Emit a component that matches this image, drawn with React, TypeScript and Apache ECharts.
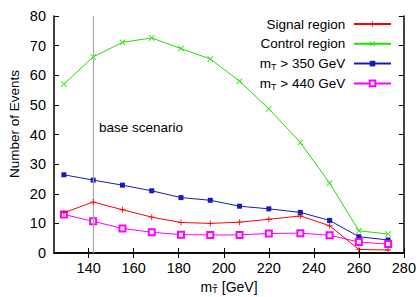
import React, { useEffect, useRef } from "react";
import * as echarts from "echarts";

const MT = [129, 142, 155, 168, 181, 194, 207, 220, 234, 247, 260, 273];
const SIGNAL = [13.6, 17.2, 14.6, 12.1, 10.3, 10.0, 10.4, 11.4, 12.5, 9.2, 1.2, 1.0];
const CONTROL = [57.0, 66.2, 71.1, 72.6, 69.0, 65.5, 58.0, 48.7, 37.3, 23.6, 7.5, 6.4];
const MT350 = [26.4, 24.6, 22.9, 21.0, 18.7, 17.8, 15.8, 14.9, 13.7, 11.0, 5.5, 4.4];
const MT440 = [13.0, 10.7, 8.3, 7.0, 6.2, 6.1, 6.1, 6.6, 6.7, 6.0, 3.7, 3.0];
const X_TICKS = [140, 160, 180, 200, 220, 240, 260, 280];
const BASE_SCENARIO = 142;
const NAMES = ["Signal region", "Control region", "mT > 350 GeV", "mT > 440 GeV"];

const FONT = "'Liberation Sans', Arial, sans-serif";
const PLUS = "path://M-0.14,-1H0.14V1H-0.14Z M-1,-0.14H1V0.14H-1Z";
const CROSS = "path://M-1,-0.8L-0.8,-1L1,0.8L0.8,1Z M1,-0.8L0.8,-1L-1,0.8L-0.8,1Z";

export default function App() {
  const ref = useRef<HTMLDivElement>(null);
  useEffect(() => {
    if (!ref.current) return;
    const chart = echarts.init(ref.current, null, { renderer: "svg" });
    const pairs = (ys: number[]) => MT.map((x, i) => [x, ys[i]]);
    const axisLine = { show: true, lineStyle: { color: "#000", width: 1.5 } };
    const tickStyle = { show: true, inside: true, length: 5, lineStyle: { color: "#000", width: 1 } };
    const labelStyle = { color: "#000", fontSize: 14.5, fontFamily: FONT };
    chart.setOption({
      animation: false,
      grid: { left: 54, right: 14, top: 16, bottom: 44 },
      xAxis: [
        {
          type: "value", min: 124.6, max: 280, position: "bottom",
          axisLine, splitLine: { show: false },
          axisTick: { ...tickStyle, customValues: X_TICKS },
          axisLabel: { ...labelStyle, margin: 7, customValues: X_TICKS },
        },
        {
          type: "value", min: 124.6, max: 280, position: "top",
          axisLine, splitLine: { show: false },
          axisTick: { ...tickStyle, customValues: X_TICKS },
          axisLabel: { show: false },
        },
      ],
      yAxis: [
        {
          type: "value", min: 0, max: 80, interval: 10, position: "left",
          axisLine, splitLine: { show: false },
          axisTick: tickStyle,
          axisLabel: { ...labelStyle, margin: 8 },
        },
        {
          type: "value", min: 0, max: 80, interval: 10, position: "right",
          axisLine, splitLine: { show: false },
          axisTick: tickStyle,
          axisLabel: { show: false },
        },
      ],
      legend: {
        orient: "vertical", right: 22, top: 11, align: "right",
        itemWidth: 37, itemHeight: 7, itemGap: 3.8,
        data: NAMES,
        formatter: (n: string) => (n.startsWith("mT") ? "m{sub|T}" + n.slice(2) + " " : n + " "),
        textStyle: {
          color: "#000", fontSize: 13.5, fontFamily: FONT, lineHeight: 16,
          rich: { sub: { fontSize: 9, fontFamily: FONT, color: "#000", verticalAlign: "bottom", lineHeight: 8 } },
        },
      },
      graphic: [
        {
          type: "text", left: 99, top: 120,
          style: { text: "base scenario", fontSize: 13.5, fontFamily: FONT, fill: "#000" },
        },
        {
          type: "text", x: 14, y: 124, rotation: Math.PI / 2,
          style: { text: "Number of Events", fontSize: 13.5, fontFamily: FONT, fill: "#000", align: "center", verticalAlign: "middle" },
        },
        {
          type: "text", x: 229, y: 287,
          style: {
            text: "m{sub|T\u0303} [GeV]", fontSize: 14, fontFamily: FONT, fill: "#000",
            align: "center", verticalAlign: "middle",
            rich: { sub: { fontSize: 9.5, fontFamily: FONT, fill: "#000", verticalAlign: "bottom", lineHeight: 8 } },
          },
        },
      ],
      series: [
        {
          name: NAMES[0], type: "line", data: pairs(SIGNAL),
          symbol: PLUS, symbolSize: 6,
          lineStyle: { color: "#ff0000", width: 1 },
          itemStyle: { color: "#ff0000" },
          markLine: {
            silent: true, symbol: "none", label: { show: false },
            lineStyle: { color: "#a8a8a8", width: 1.2, type: "solid" },
            data: [{ xAxis: BASE_SCENARIO }],
          },
          z: 5,
        },
        {
          name: NAMES[1], type: "line", data: pairs(CONTROL),
          symbol: CROSS, symbolSize: 6,
          lineStyle: { color: "#22dd00", width: 1 },
          itemStyle: { color: "#22dd00" },
        },
        {
          name: NAMES[2], type: "line", data: pairs(MT350),
          symbol: "rect", symbolSize: 5,
          lineStyle: { color: "#1a1ab8", width: 1 },
          itemStyle: { color: "#1a1ab8" },
        },
        {
          name: NAMES[3], type: "line", data: pairs(MT440),
          symbol: "emptyRect", symbolSize: 6,
          lineStyle: { color: "#ff00ff", width: 1 },
          itemStyle: { color: "#ff00ff", borderWidth: 1 },
        },
      ],
    });
    return () => chart.dispose();
  }, []);
  return <div ref={ref} style={{ width: 419, height: 297, position: "absolute", left: 0, top: 0 }} />;
}
